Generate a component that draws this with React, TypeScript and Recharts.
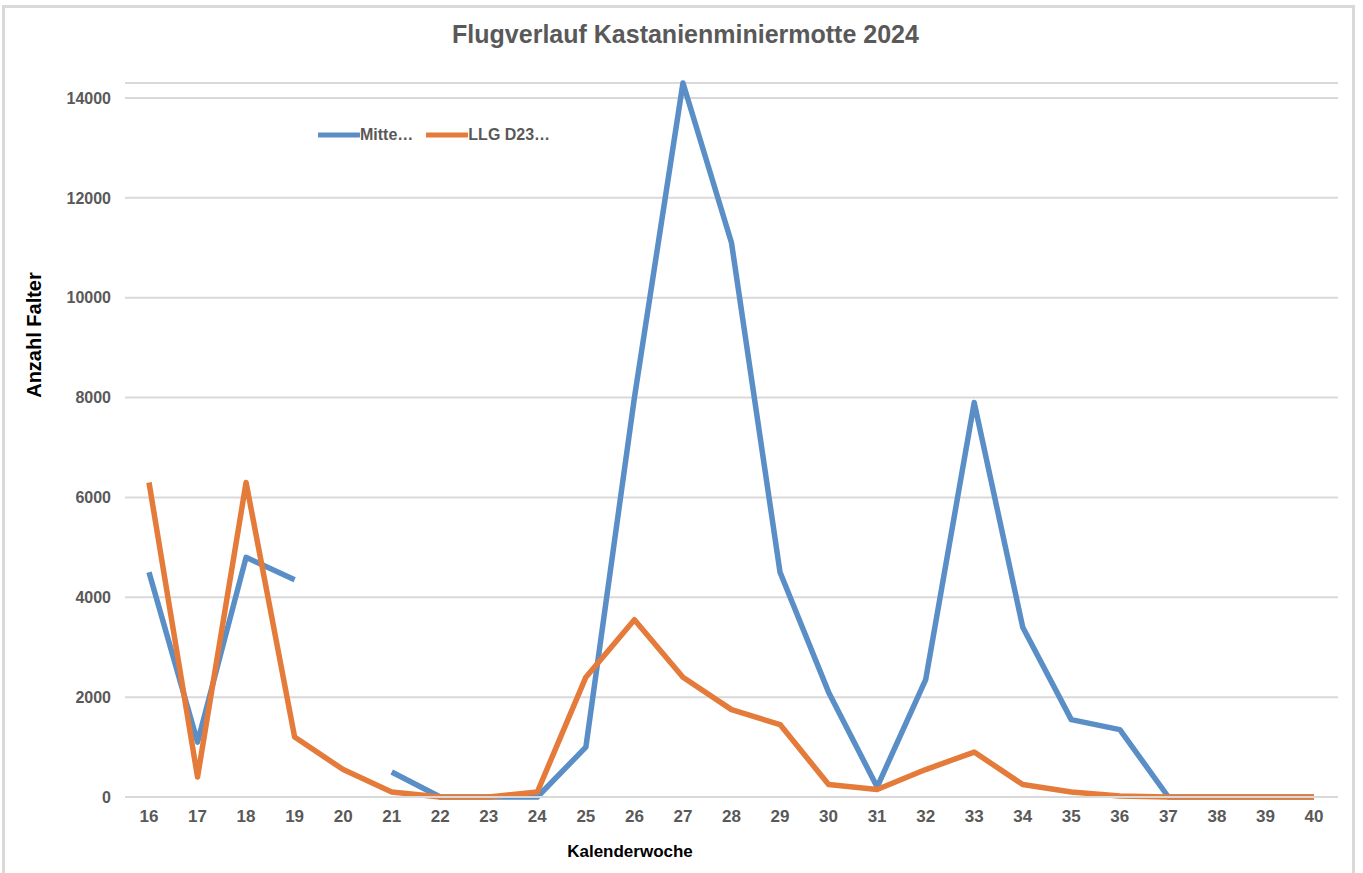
import React from 'react';
import { LineChart, Line, XAxis, YAxis, CartesianGrid, Legend } from 'recharts';

const weeks = ['16','17','18','19','20','21','22','23','24','25','26','27','28','29','30','31','32','33','34','35','36','37','38','39','40'];
const mitte: (number | null)[] = [4500,1100,4800,4350,null,500,0,0,0,1000,8000,14300,11100,4500,2100,200,2350,7900,3400,1550,1350,0,0,0,0];
const llg: (number | null)[] = [6300,400,6300,1200,550,100,0,0,100,2400,3550,2400,1750,1450,250,150,550,900,250,100,20,0,0,0,0];
const yTicks = [0,2000,4000,6000,8000,10000,12000,14000];
const seriesOrder = ['mitte', 'llg'];

const data = weeks.map((w, i) => ({ week: w, mitte: mitte[i], llg: llg[i] }));

const FONT = '"Liberation Sans", Arial, sans-serif';
const GRAY = '#595959';
const BLUE = '#5a8ec6';
const ORANGE = '#e57b3a';

const LegendContent = (props: any) => {
  const payload = [...(props.payload || [])].sort(
    (a: any, b: any) => seriesOrder.indexOf(a.dataKey) - seriesOrder.indexOf(b.dataKey)
  );
  return (
    <div style={{ display: 'flex', alignItems: 'center', fontFamily: FONT }}>
      {payload.map((p: any, i: number) => (
        <div key={i} style={{ display: 'flex', alignItems: 'center', marginRight: i === 0 ? 13 : 0 }}>
          <svg width={42} height={10} style={{ display: 'block' }}>
            <line x1={1} y1={5} x2={41} y2={5} stroke={p.color} strokeWidth={5} strokeLinecap="round" />
          </svg>
          <span style={{ fontSize: 16, fontWeight: 'bold', color: GRAY, lineHeight: '20px' }}>{p.value}</span>
        </div>
      ))}
    </div>
  );
};

export default function App() {
  return (
    <div style={{ position: 'absolute', left: 0, top: 0, width: 1363, height: 873, background: '#fff', fontFamily: FONT }}>
      <div style={{ position: 'absolute', left: 2, top: 5, width: 1353, height: 875, border: '3px solid #d9d9d9', boxSizing: 'border-box' }} />
      <div style={{ position: 'absolute', left: 0, top: 20, width: 1371, textAlign: 'center', fontSize: 25, fontWeight: 'bold', color: GRAY }}>
        Flugverlauf Kastanienminiermotte 2024
      </div>
      <div style={{ position: 'absolute', left: 34 - 100, top: 335 - 12, width: 200, height: 24, lineHeight: '24px', textAlign: 'center', fontSize: 20, fontWeight: 'bold', color: '#000', transform: 'rotate(-90deg)' }}>
        Anzahl Falter
      </div>
      <div style={{ position: 'absolute', left: 430, top: 843, width: 400, lineHeight: 1, textAlign: 'center', fontSize: 17, fontWeight: 'bold', color: '#000' }}>
        Kalenderwoche
      </div>
      <div style={{ position: 'absolute', left: 0, top: 0 }}>
        <LineChart width={1363} height={873} data={data} margin={{ top: 83, right: 25, bottom: 14, left: 65 }}>
          <CartesianGrid vertical={false} stroke="#d9d9d9" strokeWidth={2} />
          <XAxis
            dataKey="week"
            height={40}
            padding={{ left: 24, right: 24 }}
            axisLine={{ stroke: '#d9d9d9', strokeWidth: 2 }}
            tickLine={false}
            tickSize={0}
            tickMargin={13}
            interval={0}
            tick={{ fill: GRAY, fontSize: 17, fontWeight: 'bold', fontFamily: FONT }}
          />
          <YAxis
            width={60}
            domain={[0, 'dataMax']}
            ticks={yTicks}
            axisLine={false}
            tickLine={false}
            tickSize={0}
            tickMargin={14}
            tick={{ fill: GRAY, fontSize: 16, fontWeight: 'bold', fontFamily: FONT }}
          />
          <Legend
            content={<LegendContent />}
            wrapperStyle={{ position: 'absolute', left: 318, top: 125, width: 'auto', height: 22 }}
          />
          <Line name="Mitte…" type="linear" dataKey="mitte" stroke={BLUE} strokeWidth={5.5} dot={false} activeDot={false} isAnimationActive={false} strokeLinejoin="round" />
          <Line name="LLG D23…" type="linear" dataKey="llg" stroke={ORANGE} strokeWidth={5.5} dot={false} activeDot={false} isAnimationActive={false} strokeLinejoin="round" />
        </LineChart>
      </div>
    </div>
  );
}
